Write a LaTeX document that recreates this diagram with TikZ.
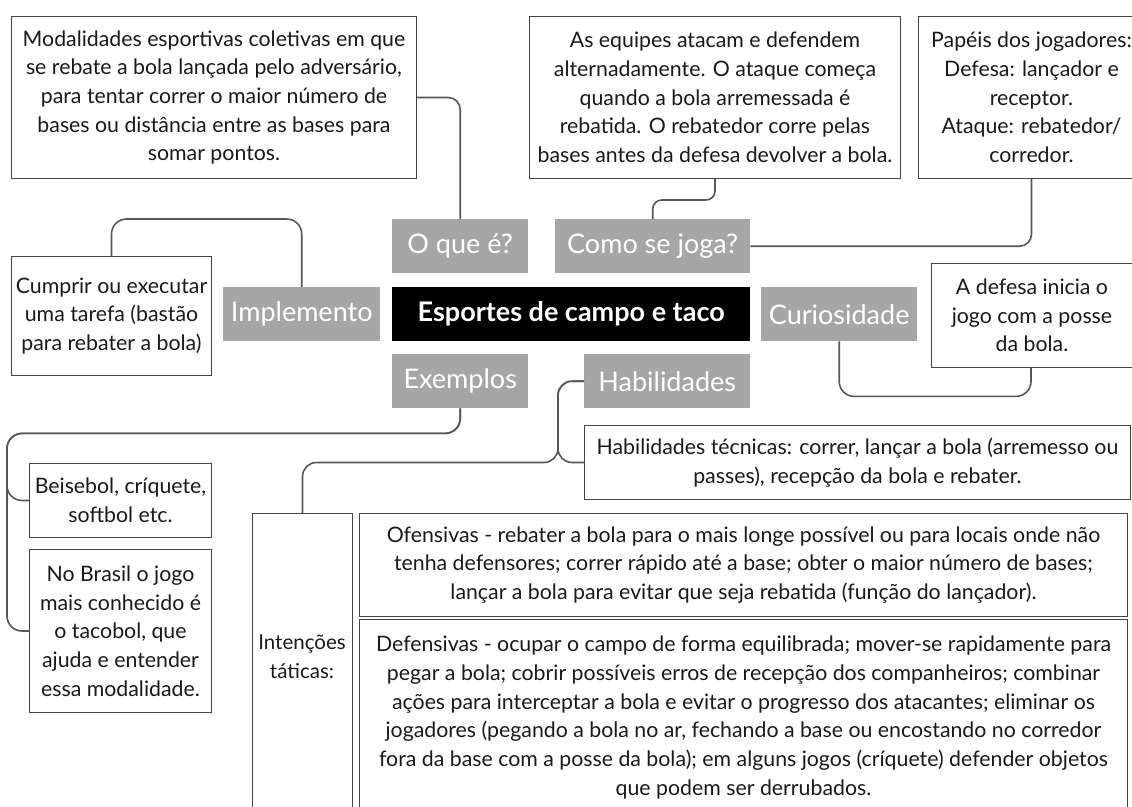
\documentclass[tikz,border=0pt]{standalone}
\usepackage{fontspec}
\setmainfont{Lato}
\usetikzlibrary{calc}
\definecolor{labelgray}{HTML}{A6A6A6}
\definecolor{bordercol}{HTML}{444444}
\definecolor{conncol}{HTML}{575757}
\definecolor{txtcol}{HTML}{1A1A1A}
\tikzset{
  txtbox/.style={draw=bordercol, line width=1pt, fill=white, align=center, inner sep=0pt, text=txtcol, font=\fontsize{21.3}{28.7}\selectfont, anchor=north west},
  graybox/.style={fill=labelgray, text=white, inner sep=0pt, font=\fontsize{27}{30}\selectfont, anchor=north west},
  titlebox/.style={fill=black, text=white, inner sep=0pt, font=\bfseries\fontsize{27}{30}\selectfont, anchor=north west},
  plaintext/.style={align=center, inner sep=0pt, text=txtcol, font=\fontsize{20.5}{28.7}\selectfont},
  conn/.style={draw=conncol, line width=1.6pt, rounded corners=12pt},
}
\begin{document}
\begin{tikzpicture}[x=1pt,y=-1pt]
\clip (0,0) rectangle (1132,806);
\fill[white] (0,0) rectangle (1132,806);

% top text boxes
\node[txtbox, minimum width=405, minimum height=162] (mod) at (11,16)
 {Modalidades esportivas coletivas em que\\se rebate a bola lançada pelo adversário,\\para tentar correr o maior número de\\bases ou distância entre as bases para\\somar pontos.};
\node[txtbox, minimum width=371, minimum height=162] (equipes) at (529,16)
 {As equipes atacam e defendem\\alternadamente. O ataque começa\\quando a bola arremessada é\\rebatida. O rebatedor corre pelas\\bases antes da defesa devolver a bola.};
\node[txtbox, minimum width=226, minimum height=162] (papeis) at (918,16)
 {Papéis dos jogadores:\\Defesa: lançador e\\receptor.\\Ataque: rebatedor/\\corredor.};

% gray labels
\node[graybox, minimum width=136, minimum height=54] (oque) at (392,219) {O que é?};
\node[graybox, minimum width=195, minimum height=54] (como) at (555,219) {Como se joga?};
\node[graybox, minimum width=157, minimum height=54] (impl) at (223,287) {Implemento};
\node[titlebox, minimum width=358, minimum height=54] (central) at (392,287) {Esportes de campo e taco};
\node[graybox, minimum width=156, minimum height=54] (curio) at (761,287) {Curiosidade};
\node[graybox, minimum width=136, minimum height=54] (exemplos) at (392,354) {Exemplos};
\node[graybox, minimum width=166, minimum height=54] (habil) at (584,354) {Habilidades};

% side boxes
\node[txtbox, minimum width=200, minimum height=119] (cumprir) at (11,256)
 {Cumprir ou executar\\uma tarefa (bastão\\para rebater a bola)};
\node[txtbox, minimum width=201, minimum height=104] (adefesa) at (931,263)
 {A defesa inicia o\\jogo com a posse\\da bola.};
\node[txtbox, minimum width=546, minimum height=74] (tecnicas) at (584,425)
 {Habilidades técnicas: correr, lançar a bola (arremesso ou\\passes), recepção da bola e rebater.};
\node[txtbox, minimum width=182, minimum height=74] (beisebol) at (29,463)
 {Beisebol, críquete,\\softbol etc.};
\node[txtbox, minimum width=182, minimum height=163] (nobrasil) at (29,549)
 {No Brasil o jogo\\mais conhecido é\\o tacobol, que\\ajuda e entender\\essa modalidade.};

% bottom boxes
\node[txtbox, minimum width=100, minimum height=302] (intencoes) at (252,513) {};
\node[plaintext] (intencoesT) at (302,657) {Intenções\\táticas:};
\node[txtbox, minimum width=768, minimum height=103] (ofensivas) at (359,513)
 {Ofensivas - rebater a bola para o mais longe possível ou para locais onde não\\tenha defensores; correr rápido até a base; obter o maior número de bases;\\lançar a bola para evitar que seja rebatida (função do lançador).};
\node[txtbox, minimum width=768, minimum height=196] (defensivas) at (359,619)
 {Defensivas - ocupar o campo de forma equilibrada; mover-se rapidamente para\\pegar a bola; cobrir possíveis erros de recepção dos companheiros; combinar\\ações para interceptar a bola e evitar o progresso dos atacantes; eliminar os\\jogadores (pegando a bola no ar, fechando a base ou encostando no corredor\\fora da base com a posse da bola); em alguns jogos (críquete) defender objetos\\que podem ser derrubados.};

% connectors
\draw[conn] (mod.east) -| (oque.north);
\draw[conn, rounded corners=9pt] (equipes.south) -- ++(0,21) -| (como.north);
\draw[conn] (papeis.south) |- (como.east);
\draw[conn, rounded corners=15pt] (cumprir.north) -- ++(0,-37) -| (impl.north);
\draw[conn, rounded corners=15pt] (curio.south) -- ++(0,55) -| ($(adefesa.south west)+(100,0)$);
\draw[conn, rounded corners=15pt] (exemplos.south) -- ++(0,25) -| ($(nobrasil.west)+(-22,0)$) -- (nobrasil.west);
\draw[conn, rounded corners=15pt] (exemplos.south) -- ++(0,25) -| ($(beisebol.west)+(-22,0)$) -- (beisebol.west);
\draw[conn, rounded corners=14pt] (habil.west) -| ($(tecnicas.west)+(-26,0)$) -- (tecnicas.west);
\draw[conn, rounded corners=14pt] (habil.west) -| ($(tecnicas.west)+(-26,0)$) -| (intencoes.north);
\end{tikzpicture}
\end{document}
